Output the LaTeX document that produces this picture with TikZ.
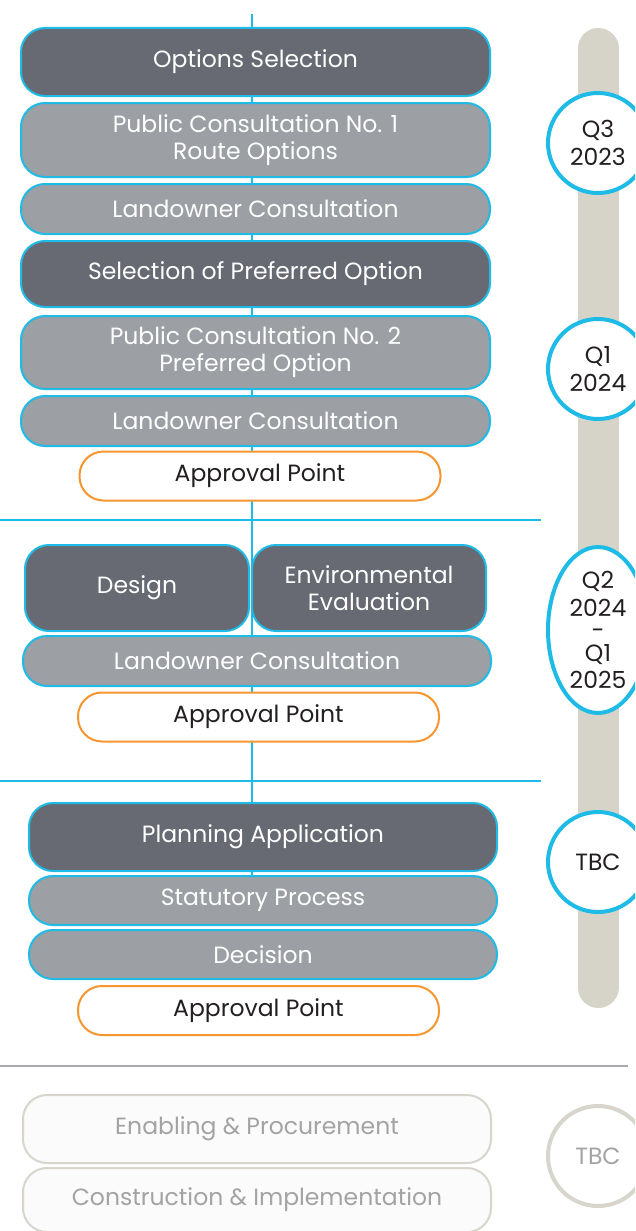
\documentclass[tikz,border=0pt]{standalone}
\usepackage{fontspec}
\setmainfont{Poppins}
\usetikzlibrary{backgrounds,calc,shapes.geometric}
\definecolor{cyanb}{HTML}{1EBBE6}
\definecolor{darkbox}{HTML}{676A72}
\definecolor{lightbox}{HTML}{9C9FA3}
\definecolor{orangeb}{HTML}{F7952F}
\definecolor{barcol}{HTML}{D6D4C9}
\definecolor{fadefill}{HTML}{FCFBFB}
\definecolor{fadeline}{HTML}{D7D5CC}
\definecolor{fadetext}{HTML}{A3A3A3}
\definecolor{sepgray}{HTML}{A9AAB0}
\definecolor{txt}{HTML}{231F20}
\begin{document}
\begin{tikzpicture}[x=1pt,y=-1pt,
  boxfont/.style={font=\fontsize{23.5}{27}\selectfont},
  box/.style={draw=cyanb, line width=2pt, rounded corners=24pt, align=center, text=white, inner sep=0pt, boxfont},
  darkstep/.style={box, fill=darkbox},
  lightstep/.style={box, fill=lightbox},
  approval/.style={draw=orangeb, line width=2pt, fill=white, rounded corners=24pt, text=txt, inner sep=0pt, boxfont, minimum width=361pt, minimum height=49pt},
  fadestep/.style={draw=fadeline, line width=2pt, fill=fadefill, rounded corners=24pt, text=fadetext, inner sep=0pt, boxfont, minimum width=468pt},
  datecirc/.style={circle, draw=cyanb, line width=4pt, fill=white, minimum size=100pt, inner sep=0pt, align=center, text=txt, font=\fontsize{23.5}{27.5}\selectfont},
  sepline/.style={cyanb, line width=1.3pt},
  flow/.style={cyanb, line width=1.3pt}
]
\useasboundingbox (0,0) rectangle (635,1231);
\clip (0,0) rectangle (635,1231);

% timeline bar
\coordinate (bartop) at (598,48.5);
\coordinate (barbot) at (598,987.5);
\draw[barcol, line width=41pt, line cap=round] (bartop) -- (barbot);

% phase 1
\node[darkstep, minimum width=469pt, minimum height=68pt] (opt) at (255.5,62) {Options Selection};
\node[lightstep, minimum width=469pt, minimum height=74pt] (pc1) at (255.5,140) {Public Consultation No. 1\\Route Options};
\node[lightstep, minimum width=469pt, minimum height=50pt] (lo1) at (255.5,209) {Landowner Consultation};
\node[darkstep, minimum width=469pt, minimum height=66pt] (sel) at (255.5,274) {Selection of Preferred Option};
\node[lightstep, minimum width=469pt, minimum height=73pt] (pc2) at (255.5,352.5) {Public Consultation No. 2\\Preferred Option};
\node[lightstep, minimum width=469pt, minimum height=50pt] (lo2) at (255.5,421) {Landowner Consultation};
\node[approval] (ap1) at (260,476) {Approval Point};

% phase 2
\node[darkstep, minimum width=224pt, minimum height=86pt] (des) at (137,588) {Design};
\node[darkstep, minimum width=234pt, minimum height=86pt] (env) at (369,588) {Environmental\\Evaluation};
\node[lightstep, minimum width=468pt, minimum height=50pt] (lo3) at (257,661) {Landowner Consultation};
\node[approval] (ap2) at (258.5,717) {Approval Point};

% phase 3
\node[darkstep, minimum width=468pt, minimum height=68pt] (pa) at (263,837) {Planning Application};
\node[lightstep, minimum width=468pt, minimum height=49pt] (sp) at (263,900.5) {Statutory Process};
\node[lightstep, minimum width=468pt, minimum height=49pt] (dec) at (263,954.5) {Decision};
\node[approval] (ap3) at (258.5,1010.5) {Approval Point};

% phase 4
\node[fadestep, minimum height=68pt] (en) at (257,1129) {Enabling \& Procurement};
\node[fadestep, minimum height=64pt] (con) at (257,1200) {Construction \& Implementation};

% date markers
\node[datecirc] (q3) at (598,143) {Q3\\2023};
\node[datecirc] (q1) at (598,369) {Q1\\2024};
\node[datecirc, ellipse, minimum width=100pt, minimum height=166pt] (q2) at (598,630) {Q2\\2024\\[-5pt]-\\[-5pt]Q1\\2025};
\node[datecirc] (tbc1) at (598,862) {TBC};
\node[datecirc, draw=fadeline, text=fadetext] (tbc2) at (598,1156) {TBC};

% flow line behind boxes
\coordinate (top) at (252,14);
\begin{scope}[on background layer]
  \fill[white] (0,0) rectangle (635,1231);
  \draw[flow] (top) -- (top |- sp.north);
\end{scope}

% phase separators
\coordinate (s1l) at (0,520);
\coordinate (s1r) at (541,520);
\coordinate (s2l) at (0,781);
\coordinate (s2r) at (541,781);
\coordinate (s3l) at (0,1066);
\coordinate (s3r) at (628,1066);
\draw[sepline] (s1l) -- (s1r);
\draw[sepline] (s2l) -- (s2r);
\draw[sepgray, line width=1.3pt] (s3l) -- (s3r);
\end{tikzpicture}
\end{document}
